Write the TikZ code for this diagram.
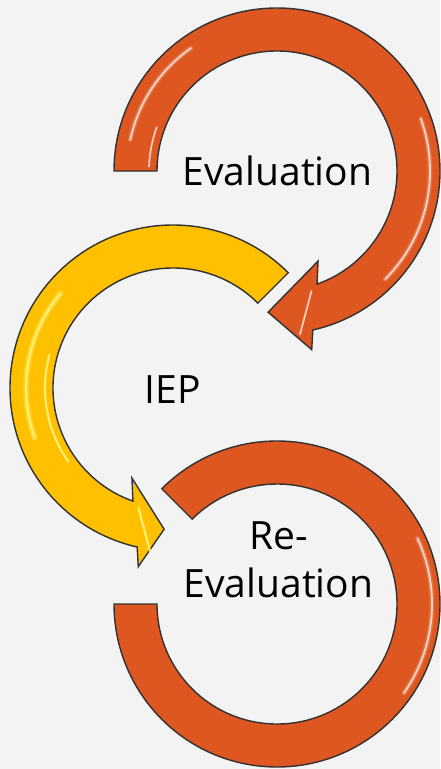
\documentclass[tikz,border=0pt]{standalone}
\usepackage{fontspec}
\setmainfont{Open Sans}
\definecolor{bg}{RGB}{243,243,243}
\definecolor{orng}{RGB}{222,86,32}
\definecolor{ylw}{RGB}{255,192,0}
\definecolor{ylwlight}{RGB}{255,244,120}
\definecolor{edge}{RGB}{50,50,50}
\begin{document}
\begin{tikzpicture}[x=1pt,y=1pt,
  band/.style={draw=edge, line width=1.4pt, line join=miter},
  glosswide/.style={draw=white, line width=5pt, opacity=0.18, line cap=round},
  gloss/.style={draw=white, line width=1.8pt, opacity=0.7, line cap=round},
  yglosswide/.style={draw=ylwlight, line width=6pt, opacity=0.35, line cap=round},
  ygloss/.style={draw=ylwlight, line width=2.2pt, opacity=0.9, line cap=round},
  lbl/.style={font=\fontsize{39}{48}\selectfont, align=center, text=black, inner sep=0pt}]
\fill[bg] (0,0) rectangle (440,-769);
\useasboundingbox (0,0) rectangle (440,-769);
\coordinate (A) at (277,-171);
\coordinate (B) at (173,-388);
\coordinate (C) at (277,-604);
% top arrow: Evaluation
\begin{scope}[shift={(A)}]
\filldraw[band, fill=orng] (180:163) arc[start angle=180, end angle=-77.3, radius=163]
  -- (-79:182) -- (-93.6:141.5) -- (-65.5:99) -- (-70.5:120)
  arc[start angle=-70.5, end angle=180, radius=120] -- cycle;
\draw[glosswide] (168:150) arc[start angle=168, end angle=125, radius=150];
\draw[gloss] (168:150) arc[start angle=168, end angle=125, radius=150];
\draw[gloss] (178:128) arc[start angle=178, end angle=160, radius=128];
\draw[glosswide] (20:153) arc[start angle=20, end angle=-45, radius=153];
\draw[gloss] (20:153) arc[start angle=20, end angle=-45, radius=153];
\draw[gloss] (-74:125) -- (-82:165);
\end{scope}
% middle arrow: IEP
\begin{scope}[shift={(B)}]
\filldraw[band, fill=ylw] (45:163) arc[start angle=45, end angle=257.3, radius=163]
  -- (259:182) -- (266.4:141.5) -- (245.5:99) -- (250.5:120)
  arc[start angle=250.5, end angle=45, radius=120] -- cycle;
\draw[yglosswide] (140:147) arc[start angle=140, end angle=200, radius=147];
\draw[ygloss] (140:147) arc[start angle=140, end angle=200, radius=147];
\draw[ygloss] (165:128) arc[start angle=165, end angle=215, radius=128];
\draw[ygloss] (254:125) -- (262:165);
\end{scope}
% bottom ring: Re-Evaluation
\begin{scope}[shift={(C)}]
\filldraw[band, fill=orng] (135:163) arc[start angle=135, end angle=-180, radius=163]
  -- (180:120) arc[start angle=-180, end angle=135, radius=120] -- cycle;
\draw[glosswide] (25:155) arc[start angle=25, end angle=-35, radius=155];
\draw[gloss] (25:155) arc[start angle=25, end angle=-35, radius=155];
\end{scope}
\node[lbl, anchor=base] (eval) at (277.5,-185) {Evaluation};
\node[lbl, anchor=base] (iep) at (173,-403) {IEP};
\node[lbl, anchor=base] (reeval) at (278.5,-597) {Re-\\Evaluation};
\end{tikzpicture}
\end{document}
